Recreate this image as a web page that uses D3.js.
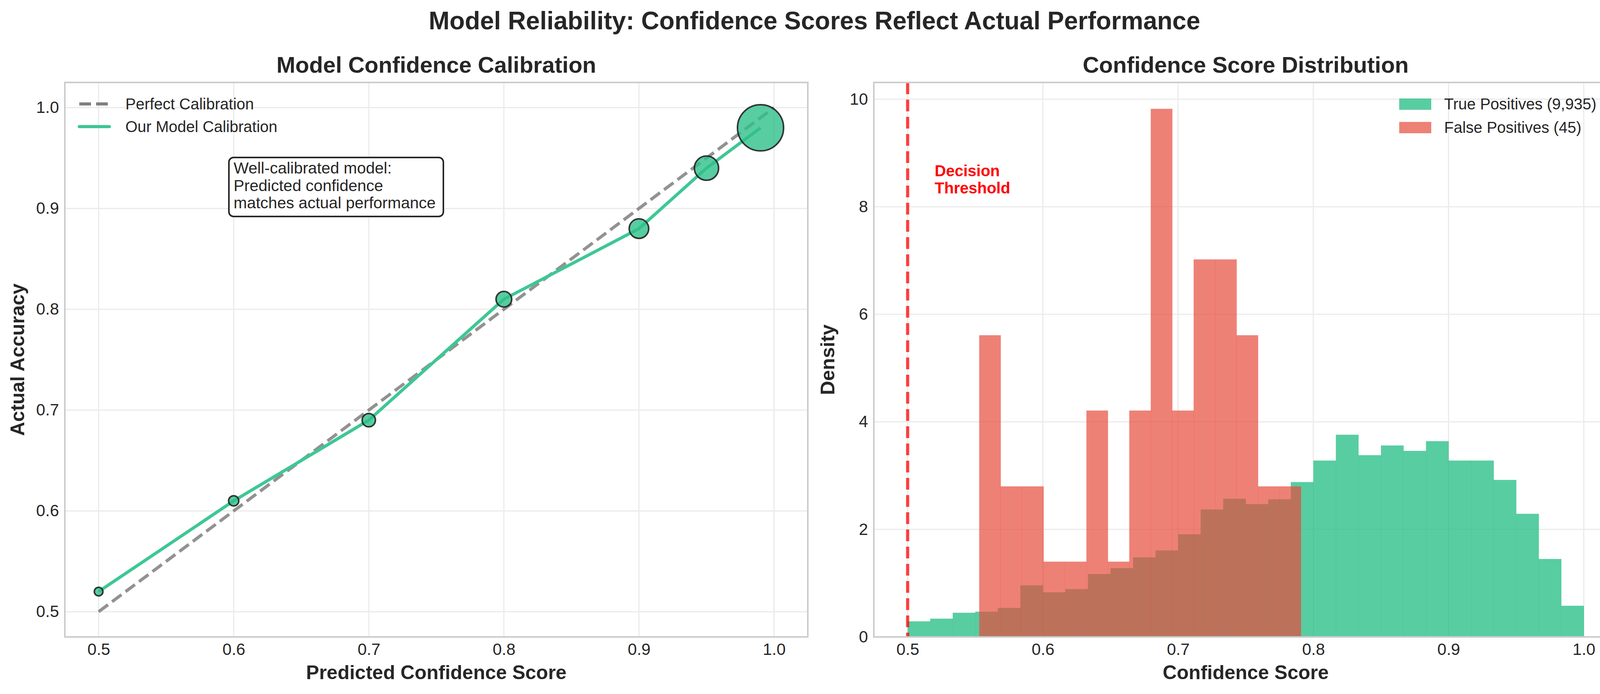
<!DOCTYPE html>
<html>
<head>
<meta charset="utf-8">
<script src="https://cdn.jsdelivr.net/npm/d3@7"></script>
<style>
  body { margin:0; background:#fff; }
  text { font-family: "Liberation Sans", Arial, sans-serif; fill:#262626; }
</style>
</head>
<body>
<script>
// calibration data
var predConf = [0.5, 0.6, 0.7, 0.8, 0.9, 0.95, 0.99];
var actualAcc = [0.52, 0.61, 0.69, 0.81, 0.88, 0.94, 0.98];
var markerRadius = [11, 13, 17, 20, 25, 31, 59];

// histogram data (density per bin)
var tpStart = 0.5, tpWidth = 0.5 / 30;
var tpDensity = [0.29, 0.34, 0.45, 0.47, 0.54, 0.96, 0.83, 0.89, 1.17, 1.28,
                 1.48, 1.61, 1.91, 2.37, 2.57, 2.47, 2.56, 2.88, 3.28, 3.76,
                 3.38, 3.56, 3.46, 3.64, 3.28, 3.28, 2.92, 2.29, 1.45, 0.58];
var fpStart = 0.5529, fpWidth = 0.01586;
var fpDensity = [5.61, 2.8, 2.8, 1.40, 1.40, 4.21, 1.40, 4.21, 9.82, 4.21,
                 7.02, 7.02, 5.61, 2.8, 2.8];
var tickVals = [0.5, 0.6, 0.7, 0.8, 0.9, 1.0];
var densTicks = [0, 2, 4, 6, 8, 10];

var W = 4170, H = 1776;
var green = "#2ec08a", red = "#e74c3c";

var svg = d3.select("body").append("svg")
    .attr("width", W).attr("height", H);

svg.append("text")
    .attr("x", W / 2).attr("y", 75)
    .attr("text-anchor", "middle")
    .style("font-size", "64px").style("font-weight", "bold")
    .text("Model Reliability: Confidence Scores Reflect Actual Performance");

var plotTop = 211, plotBottom = 1630;

function panel(left, right, xDom, yDom, yTicks, yFmt, title, xlab, ylab, ylabX) {
  var x = d3.scaleLinear().domain(xDom).range([left, right]);
  var y = d3.scaleLinear().domain(yDom).range([plotBottom, plotTop]);
  var g = svg.append("g");
  // grid
  g.selectAll(".gx").data(tickVals).enter().append("line")
      .attr("x1", x).attr("x2", x).attr("y1", plotTop).attr("y2", plotBottom)
      .style("stroke", "#ebebeb").style("stroke-width", 3);
  g.selectAll(".gy").data(yTicks).enter().append("line")
      .attr("y1", y).attr("y2", y).attr("x1", left).attr("x2", right)
      .style("stroke", "#ebebeb").style("stroke-width", 3);
  // tick labels via axes
  var xa = g.append("g").attr("transform", "translate(0," + plotBottom + ")")
      .call(d3.axisBottom(x).tickValues(tickVals).tickFormat(d3.format(".1f")).tickSize(0).tickPadding(16));
  var ya = g.append("g").attr("transform", "translate(" + left + ",0)")
      .call(d3.axisLeft(y).tickValues(yTicks).tickFormat(yFmt).tickSize(0).tickPadding(15));
  [xa, ya].forEach(function(a) {
    a.select(".domain").remove();
    a.selectAll("text").style("font-size", "42px").style("fill", "#262626")
      .style("font-family", "'Liberation Sans', Arial, sans-serif");
  });
  svg.append("text").attr("x", (left + right) / 2).attr("y", plotTop - 25)
      .attr("text-anchor", "middle").style("font-size", "58px").style("font-weight", "bold")
      .text(title);
  svg.append("text").attr("x", (left + right) / 2).attr("y", 1738)
      .attr("text-anchor", "middle").style("font-size", "50px").style("font-weight", "bold")
      .text(xlab);
  svg.append("text").attr("transform", "translate(" + ylabX + "," + (plotTop + plotBottom) / 2 + ") rotate(-90)")
      .attr("text-anchor", "middle").style("font-size", "50px").style("font-weight", "bold")
      .text(ylab);
  return {x: x, y: y, g: g, left: left, right: right};
}

function frame(p) {
  p.g.append("rect").attr("x", p.left).attr("y", plotTop)
      .attr("width", p.right - p.left).attr("height", plotBottom - plotTop)
      .style("fill", "none").style("stroke", "#cccccc").style("stroke-width", 4);
}

// left panel
var L = panel(166, 2068, [0.475, 1.025], [0.475, 1.025], tickVals, d3.format(".1f"),
    "Model Confidence Calibration", "Predicted Confidence Score", "Actual Accuracy", 62);
L.g.append("line")
    .attr("x1", L.x(0.5)).attr("y1", L.y(0.5)).attr("x2", L.x(1.0)).attr("y2", L.y(1.0))
    .style("stroke", "#808080").style("stroke-width", 8).style("stroke-dasharray", "30,13")
    .style("opacity", 0.85);
var pts = predConf.map(function(d, i) { return [d, actualAcc[i], markerRadius[i]]; });
L.g.append("path").datum(pts)
    .attr("d", d3.line().x(function(d) { return L.x(d[0]); }).y(function(d) { return L.y(d[1]); }))
    .style("fill", "none").style("stroke", "#3ec795").style("stroke-width", 8);
L.g.selectAll(".pt").data(pts).enter().append("circle")
    .attr("cx", function(d) { return L.x(d[0]); }).attr("cy", function(d) { return L.y(d[1]); })
    .attr("r", function(d) { return d[2]; })
    .style("fill", green).style("fill-opacity", 0.8)
    .style("stroke", "#222").style("stroke-opacity", 0.9).style("stroke-width", 4);
frame(L);
// legend
L.g.append("line").attr("x1", 203).attr("x2", 280).attr("y1", 266).attr("y2", 266)
    .style("stroke", "#808080").style("stroke-width", 8).style("stroke-dasharray", "30,13");
L.g.append("line").attr("x1", 203).attr("x2", 280).attr("y1", 324).attr("y2", 324)
    .style("stroke", "#3ec795").style("stroke-width", 8).style("stroke-linecap", "round");
L.g.append("text").attr("x", 321).attr("y", 280).style("font-size", "40px").text("Perfect Calibration");
L.g.append("text").attr("x", 321).attr("y", 338).style("font-size", "40px").text("Our Model Calibration");
// annotation
L.g.append("rect").attr("x", 586).attr("y", 403).attr("width", 549).attr("height", 151)
    .attr("rx", 12).style("fill", "#fff").style("stroke", "#262626").style("stroke-width", 4);
["Well-calibrated model:", "Predicted confidence", "matches actual performance"].forEach(function(t, i) {
  L.g.append("text").attr("x", 598).attr("y", 444 + i * 44.6).style("font-size", "41px").text(t);
});

// right panel
var R = panel(2237, 4141, [0.475, 1.025], [0, 10.31], densTicks, d3.format("d"),
    "Confidence Score Distribution", "Confidence Score", "Density", 2136);
R.g.selectAll(".tp").data(tpDensity).enter().append("rect")
    .attr("x", function(d, i) { return R.x(tpStart + i * tpWidth); })
    .attr("width", R.x(tpStart + tpWidth) - R.x(tpStart) + 0.5)
    .attr("y", function(d) { return R.y(d); })
    .attr("height", function(d) { return R.y(0) - R.y(d); })
    .style("fill", green).style("opacity", 0.8);
R.g.selectAll(".fp").data(fpDensity).enter().append("rect")
    .attr("x", function(d, i) { return R.x(fpStart + i * fpWidth); })
    .attr("width", R.x(fpStart + fpWidth) - R.x(fpStart) + 0.5)
    .attr("y", function(d) { return R.y(d); })
    .attr("height", function(d) { return R.y(0) - R.y(d); })
    .style("fill", red).style("opacity", 0.7);
R.g.append("line").attr("x1", R.x(0.5)).attr("x2", R.x(0.5)).attr("y1", plotTop).attr("y2", plotBottom)
    .style("stroke", "red").style("stroke-opacity", 0.75).style("stroke-width", 8)
    .style("stroke-dasharray", "30,14");
R.g.append("text").attr("x", R.x(0.52)).attr("y", 451).style("font-size", "40px")
    .style("font-weight", "bold").style("fill", "red").text("Decision");
R.g.append("text").attr("x", R.x(0.52)).attr("y", 495).style("font-size", "40px")
    .style("font-weight", "bold").style("fill", "red").text("Threshold");
frame(R);
R.g.append("rect").attr("x", 3582).attr("y", 252).attr("width", 82).attr("height", 29)
    .style("fill", green).style("opacity", 0.8);
R.g.append("rect").attr("x", 3582).attr("y", 312).attr("width", 82).attr("height", 29)
    .style("fill", red).style("opacity", 0.7);
R.g.append("text").attr("x", 3697).attr("y", 280).style("font-size", "40px").text("True Positives (9,935)");
R.g.append("text").attr("x", 3697).attr("y", 340).style("font-size", "40px").text("False Positives (45)");
</script>
</body>
</html>
